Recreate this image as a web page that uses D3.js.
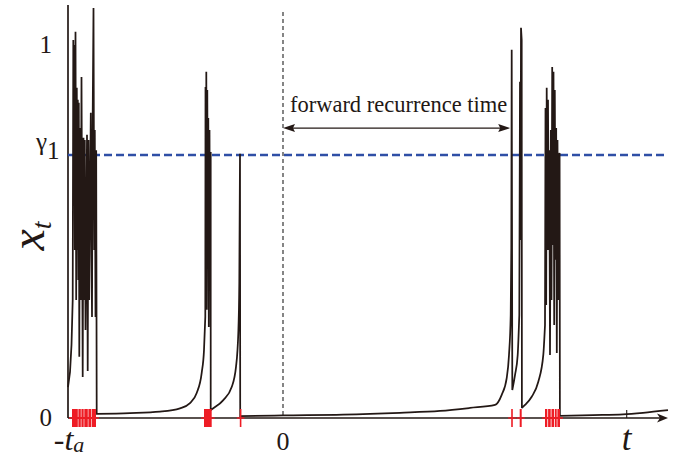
<!DOCTYPE html>
<html>
<head>
<meta charset="utf-8">
<script src="https://cdn.jsdelivr.net/npm/d3@7"></script>
<style>
  html, body { margin: 0; padding: 0; background: #fff; }
  svg { display: block; }
  text { font-family: "Liberation Serif", "Times New Roman", "DejaVu Serif", serif; }
</style>
</head>
<body>
<svg id="chart" width="682" height="459"></svg>
<script>
// ---- Data: iterations t (0 = observation time) and map state x_t ----

// laminar phases rise smoothly; bursts alternate step by step
const burstA = [
  [-215, 0.083], [-213, 0.123], [-211.5, 0.196], [-210.3, 0.316], [-209.7, 1.013],
  [-209.2, 0.584], [-208.7, 1.0], [-208.2, 0.45], [-207.5, 1.035], [-206.8, 0.316],
  [-206.2, 0.885], [-205.7, 0.45], [-205.2, 0.853], [-204.7, 0.37], [-204.2, 0.845],
  [-203.7, 0.164], [-203, 0.777], [-202.3, 0.316], [-201.5, 0.914], [-200.8, 0.45],
  [-200.3, 0.11], [-199.5, 0.751], [-198.8, 0.316], [-198.2, 0.745], [-197.5, 0.236],
  [-196.8, 0.45], [-196, 0.759], [-195.3, 0.126], [-194.5, 0.745], [-193.8, 0.316],
  [-193, 0.584], [-192.2, 0.818], [-191.5, 0.45], [-191, 0.271], [-190.3, 0.812],
  [-189.5, 1.099], [-188.8, 0.45], [-188.2, 0.772], [-187.5, 0.271], [-186.8, 0.718]
];
const laminarA = [
  [-186.3, 0.011], [-153, 0.013], [-123, 0.017], [-103, 0.026], [-93, 0.040],
  [-86.3, 0.067], [-81.3, 0.121], [-79, 0.182], [-77.7, 0.271]
];
const burstB = [
  [-77.5, 0.887], [-77, 0.316], [-76.7, 0.928], [-76.2, 0.29], [-75.7, 0.879],
  [-75.2, 0.45], [-74.7, 0.804], [-74.2, 0.244], [-73.5, 0.772], [-73, 0.343],
  [-72.3, 0.713]
];
const laminarB = [
  [-72.3, 0.021], [-69.7, 0.026], [-59.7, 0.048], [-51.3, 0.083], [-47, 0.137],
  [-44.7, 0.228], [-43.7, 0.362], [-43, 0.708]
];
const laminarC = [
  [-42.8, 0.005], [0, 0.007], [60, 0.009], [117, 0.014], [157, 0.019], [187, 0.027],
  [212, 0.035], [218.7, 0.062], [223.7, 0.107], [226, 0.169], [227.7, 0.276],
  [228.3, 0.456], [228.7, 0.987]
];
const laminarD = [
  [229.3, 0.075], [232, 0.115], [234.7, 0.169], [236.3, 0.276]
];
const burstD = [
  [237, 0.901], [237.5, 0.477], [238, 1.046], [238.7, 1.013]
];
const laminarE = [
  [238.9, 0.027], [242, 0.035], [248.7, 0.057], [255.3, 0.097], [260.3, 0.169],
  [262, 0.249]
];
const burstE = [
  [262.5, 0.831], [263.2, 0.303], [263.7, 0.885], [264.4, 0.45], [265, 0.853],
  [265.7, 0.45], [266.3, 0.718], [267, 0.169], [267.8, 0.772], [268.5, 0.316],
  [269.2, 0.941], [269.8, 0.464], [270.5, 0.928], [271.2, 0.249], [271.8, 0.879],
  [272.5, 0.424], [273.2, 0.777], [273.8, 0.174], [274.5, 0.745], [275.2, 0.316],
  [275.8, 0.705], [276.6, 0.71]
];
const laminarF = [
  [276.9, 0.006], [310, 0.008], [340, 0.010], [360, 0.014], [385, 0.021]
];

// threshold and the iterations where x_t exceeds it
const gamma1 = 0.705;
const exceedances = [
  [-211, -205.2], [-204.6, -202.2], [-201.6, -199.3], [-198.7, -195.2],
  [-194.6, -191.9], [-191.3, -187],
  [-79, -71.3], [-43.2, -42.6],
  [228.2, 229.7], [236.7, 238.7],
  [262, 264.3], [265.1, 267.7], [268.5, 271], [271.8, 273.7], [274.4, 277]
];

// tick values and labels
const yTickValues = [0, 1];
const yTickLabels = ["0", "1"];
const xTickValues = [-211, 0, 343.7];
const xTickLabels = [["-", "t", "a"], ["0", "", ""], ["", "t", ""]];
const recurrenceSpan = [0, 228.7];
const recurrenceLabel = "forward recurrence time";

// ---- Drawing ----
const svg = d3.select("#chart");
const ink = "#231815";

const x = d3.scaleLinear().domain([-215, 385]).range([68, 668]);
const y = d3.scaleLinear().domain([0, 1.107]).range([418, 5]);

// piecewise series: laminar parts smoothed, bursts straight, joined in one path
const pieces = [
  { pts: burstA, smooth: false }, { pts: laminarA, smooth: true },
  { pts: burstB, smooth: false }, { pts: laminarB, smooth: true },
  { pts: laminarC, smooth: true }, { pts: laminarD, smooth: true },
  { pts: burstD, smooth: false }, { pts: laminarE, smooth: true },
  { pts: burstE, smooth: false }, { pts: laminarF, smooth: true }
];
const lineSmooth = d3.line().x(d => x(d[0])).y(d => y(d[1])).curve(d3.curveMonotoneX);
const lineStraight = d3.line().x(d => x(d[0])).y(d => y(d[1])).curve(d3.curveLinear);
const pathD = pieces.map((p, i) => {
  const s = (p.smooth ? lineSmooth : lineStraight)(p.pts);
  return i === 0 ? s : "L" + s.slice(1);
}).join("");

// axes
const [x0, x1] = x.range();
const yBase = y(0);
svg.append("line")
  .attr("x1", x0).attr("x2", x0).attr("y1", y.range()[1]).attr("y2", yBase)
  .attr("stroke", ink).attr("stroke-width", 1.7);
svg.append("line")
  .attr("x1", x0).attr("x2", x1 - 6).attr("y1", yBase).attr("y2", yBase)
  .attr("stroke", ink).attr("stroke-width", 1.4);
svg.append("path")
  .attr("d", `M${x1},${yBase} L${x1 - 11},${yBase - 4.5} L${x1 - 8},${yBase} L${x1 - 11},${yBase + 4.5} Z`)
  .attr("fill", ink);

// tick mark at t
svg.append("line")
  .attr("x1", x(xTickValues[2])).attr("x2", x(xTickValues[2]))
  .attr("y1", yBase - 8).attr("y2", yBase)
  .attr("stroke", ink).attr("stroke-width", 1.1);

// observation time marker
svg.append("line")
  .attr("x1", x(0)).attr("x2", x(0)).attr("y1", 12).attr("y2", yBase)
  .attr("stroke", "#222").attr("stroke-width", 1.1).attr("stroke-dasharray", "4,3");

// threshold gamma_1
svg.append("line")
  .attr("x1", x0).attr("x2", x1).attr("y1", y(gamma1)).attr("y2", y(gamma1))
  .attr("stroke", "#2f4fa6").attr("stroke-width", 2.4).attr("stroke-dasharray", "8,4");

// time series
svg.append("path")
  .attr("d", pathD)
  .attr("fill", "none").attr("stroke", ink).attr("stroke-width", 1.75)
  .attr("stroke-linejoin", "miter").attr("stroke-miterlimit", 2);

// exceedance marks on the time axis
const red = "#ee1c25";
const marks = svg.append("g");
exceedances.forEach(([a, b]) => {
  const w = Math.max(1.6, x(b) - x(a));
  marks.append("line")
    .attr("x1", x(a) - 3).attr("x2", x(a) + w + 3).attr("y1", yBase).attr("y2", yBase)
    .attr("stroke", red).attr("stroke-width", 1.4);
  marks.append("rect")
    .attr("x", x(a)).attr("y", yBase - 9).attr("width", w).attr("height", 18)
    .attr("fill", red);
});

// forward recurrence time annotation
const ay = y(0.777);
const ax0 = x(recurrenceSpan[0]), ax1 = x(recurrenceSpan[1]) - 1.5;
svg.append("line")
  .attr("x1", ax0 + 6).attr("x2", ax1 - 6).attr("y1", ay).attr("y2", ay)
  .attr("stroke", ink).attr("stroke-width", 1.2);
svg.append("path")
  .attr("d", `M${ax0},${ay} L${ax0 + 12},${ay - 4} L${ax0 + 10},${ay} L${ax0 + 12},${ay + 4} Z`)
  .attr("fill", ink);
svg.append("path")
  .attr("d", `M${ax1},${ay} L${ax1 - 12},${ay - 4} L${ax1 - 10},${ay} L${ax1 - 12},${ay + 4} Z`)
  .attr("fill", ink);
svg.append("text")
  .attr("x", (ax0 + ax1) / 2 + 2).attr("y", ay - 16)
  .attr("text-anchor", "middle")
  .attr("font-size", 22.5).attr("fill", ink)
  .text(recurrenceLabel);

// y tick labels
yTickValues.forEach((v, i) => {
  svg.append("text")
    .attr("x", 52).attr("y", y(v) + 8)
    .attr("text-anchor", "end")
    .attr("font-size", 25).attr("fill", ink)
    .text(yTickLabels[i]);
});
// gamma_1 label
const gLab = svg.append("text")
  .attr("x", 36).attr("y", y(gamma1) - 5)
  .attr("font-size", 25).attr("fill", ink);
gLab.append("tspan").text("γ");
gLab.append("tspan").attr("dy", 9).text("1");

// y axis title x_t (rotated)
const yt = svg.append("text")
  .attr("transform", `translate(44,${236}) rotate(-90)`)
  .attr("text-anchor", "middle")
  .attr("font-size", 48).attr("font-style", "italic").attr("fill", ink);
yt.append("tspan").text("x");
yt.append("tspan").attr("font-size", 28).attr("dy", 7).text("t");

// x tick labels
xTickValues.forEach((v, i) => {
  const [pre, main, sub] = xTickLabels[i];
  const t = svg.append("text")
    .attr("x", x(v) - (pre === "-" ? 3 : 0)).attr("y", 450)
    .attr("text-anchor", "middle")
    .attr("fill", ink);
  if (pre === "-") {
    t.append("tspan").attr("font-size", 32).text("-");
    t.append("tspan").attr("font-size", 32).attr("font-style", "italic").text(main);
    t.append("tspan").attr("font-size", 22).attr("font-style", "italic").attr("dy", 2).text(sub);
  } else if (pre) {
    t.attr("font-size", 26).text(pre);
  } else {
    t.attr("font-size", 35).text(main);
    t.attr("font-style", "italic");
  }
});
</script>
</body>
</html>
